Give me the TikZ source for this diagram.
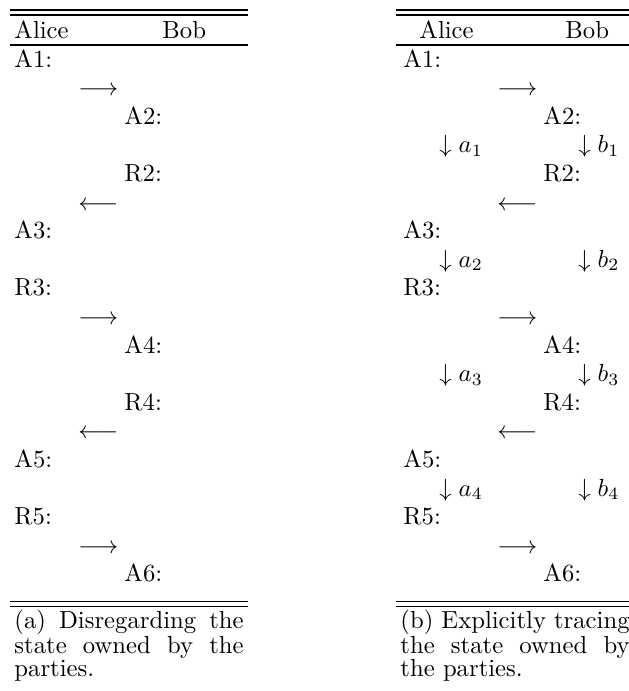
\documentclass[tikz,border=0pt]{standalone}

\begin{document}
\begin{tikzpicture}[x=0.405pt,y=-0.405pt,
   cell/.style={anchor=base west,inner sep=0pt},
   caption/.style={anchor=north west,inner sep=0pt,text width=92.8pt,align=justify,
     font=\fontsize{10}{9.3}\selectfont},
   rule/.style={line width=0.5pt}]
   \useasboundingbox (0,0) rectangle (629,691);
   \begin{scope}
    \draw[rule] (10,10) -- (248,10);
    \draw[rule] (10,15) -- (248,15);
    \draw[rule] (10,45) -- (248,45);
    \draw[rule] (10,601.5) -- (248,601.5);
    \draw[rule] (10,606.5) -- (248,606.5);
    \node[cell] (lalice) at (14,38) {Alice};
    \node[cell] (lbob) at (162,38) {Bob};
    \foreach \r/\c/\t in {0/14/A1:,1/78/$\longrightarrow$,2/124/A2:,4/124/R2:,
       5/78/$\longleftarrow$,6/14/A3:,8/14/R3:,9/78/$\longrightarrow$,10/124/A4:,
       12/124/R4:,13/78/$\longleftarrow$,14/14/A5:,16/14/R5:,17/78/$\longrightarrow$,
       18/124/A6:}
     \node[cell] (l\r) at (\c,{67+28.6*\r}) {\t};
    \node[caption] (lcap) at (14,609) {(a) Disregarding the\linebreak state owned by the\linebreak parties.};
   \end{scope}
   \begin{scope}
    \draw[rule] (396,10) -- (629,10);
    \draw[rule] (396,15) -- (629,15);
    \draw[rule] (396,45) -- (629,45);
    \draw[rule] (396,601.5) -- (629,601.5);
    \draw[rule] (396,606.5) -- (629,606.5);
    \node[cell] (ralice) at (419,38) {Alice};
    \node[cell] (rbob) at (565,38) {Bob};
    \foreach \r/\c/\t in {0/403/A1:,1/497/$\longrightarrow$,2/543/A2:,4/543/R2:,
       5/497/$\longleftarrow$,6/403/A3:,8/403/R3:,9/497/$\longrightarrow$,10/543/A4:,
       12/543/R4:,13/497/$\longleftarrow$,14/403/A5:,16/403/R5:,17/497/$\longrightarrow$,
       18/543/A6:}
     \node[cell] (r\r) at (\c,{67+28.6*\r}) {\t};
    \foreach \r/\i in {3/1,7/2,11/3,15/4} {
     \node[cell] (ra\i) at (439,{67+28.6*\r}) {$\downarrow a_\i$};
     \node[cell] (rb\i) at (578,{67+28.6*\r}) {$\downarrow b_\i$};
    }
    \node[caption] (rcap) at (400,609) {(b) Explicitly tracing\linebreak the state owned by\linebreak the parties.};
   \end{scope}
\end{tikzpicture}
\end{document}
